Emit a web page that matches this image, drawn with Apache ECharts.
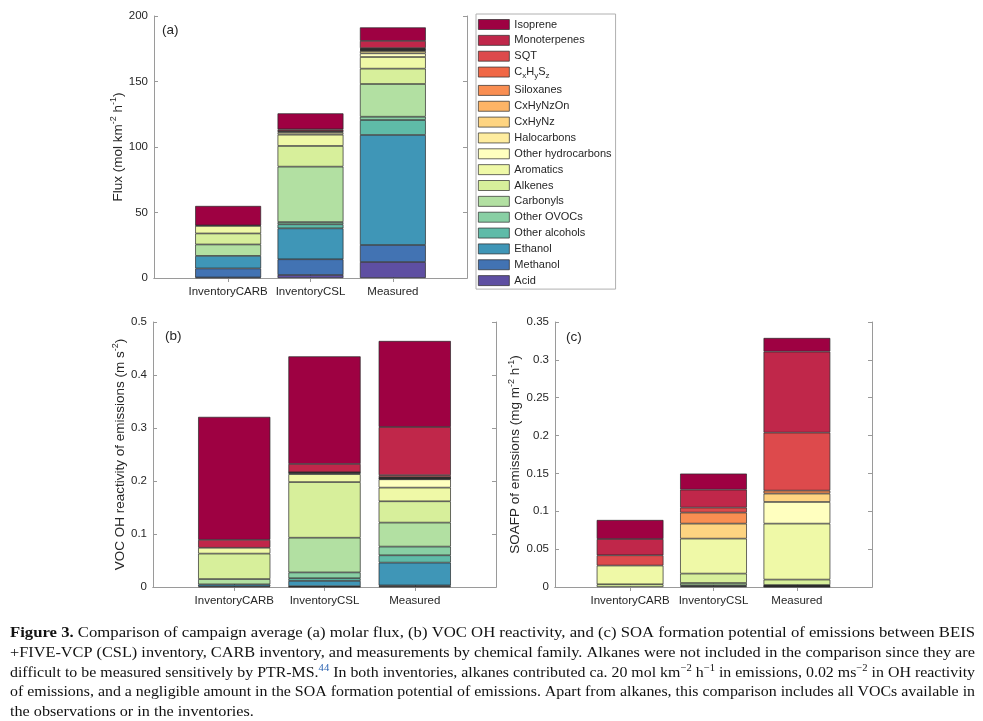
<!DOCTYPE html>
<html><head><meta charset="utf-8">
<script src="https://cdn.jsdelivr.net/npm/echarts@6/dist/echarts.min.js"></script>
<style>html,body{margin:0;padding:0;background:#fff}#c{width:983px;height:721px}</style>
</head><body><div id="c"></div>
<script>
// ---------- data ----------
const categories = ['InventoryCARB', 'InventoryCSL', 'Measured'];
// chemical families, bottom -> top of each stack
const families = ['Acid', 'Methanol', 'Ethanol', 'Other alcohols', 'Other OVOCs', 'Carbonyls', 'Alkenes',
  'Aromatics', 'Other hydrocarbons', 'Halocarbons', 'CxHyNz', 'CxHyNzOn', 'Siloxanes', 'CxHySz', 'SQT',
  'Monoterpenes', 'Isoprene'];
const familyColors = ['#5e4fa2', '#4273b3', '#3f96b7', '#5fbba8', '#88cfa4', '#b2e0a2', '#d7ef9b',
  '#eff9a7', '#ffffbf', '#feec9f', '#fed481', '#fdb466', '#f98e52', '#f06745', '#dd4a4c',
  '#c0274a', '#9e0142'];

// (a) molar flux, mol km-2 h-1 (family order as above)
const fluxCARB     = [0.4, 6.9, 9.6, 0, 0, 8.7, 8.4, 5.8, 0, 0, 0, 0, 0, 0, 0, 0.3, 14.9];
const fluxCSL      = [2.3, 12.0, 23.6, 3.1, 1.7, 42.3, 15.8, 8.6, 1.5, 1.0, 0, 0, 0.3, 0, 0, 1.3, 12.2];
const fluxMeasured = [12.2, 13.0, 84.0, 11.4, 2.5, 25.0, 11.7, 8.9, 2.8, 1.8, 0.4, 0.5, 0.4, 0.3, 0.6, 5.5, 10.3];

// (b) VOC OH reactivity of emissions, m s-2
const ohrCARB     = [0, 0.001, 0.004, 0, 0, 0.010, 0.048, 0.011, 0, 0, 0, 0, 0, 0, 0, 0.015, 0.232];
const ohrCSL      = [0.0005, 0.001, 0.010, 0.005, 0.011, 0.0655, 0.105, 0.015, 0.002, 0.001, 0, 0, 0, 0, 0.0005, 0.0157, 0.203];
const ohrMeasured = [0.001, 0.002, 0.043, 0.0138, 0.0164, 0.0453, 0.0402, 0.0258, 0.0157, 0.001, 0.0005, 0.001, 0.0005, 0.001, 0.0037, 0.091, 0.1623];

// (c) SOA formation potential of emissions, mg m-2 h-1
const soaCARB     = [0, 0, 0, 0, 0, 0, 0.0036, 0.0247, 0, 0, 0, 0, 0, 0, 0.0136, 0.0215, 0.0251];
const soaCSL      = [0, 0, 0, 0.001, 0.0012, 0.0031, 0.0124, 0.0462, 0, 0, 0.0198, 0, 0.0146, 0, 0.0066, 0.0237, 0.0212];
const soaMeasured = [0, 0.0004, 0.0005, 0.0006, 0.0005, 0.0006, 0.0072, 0.0739, 0.0286, 0, 0.0111, 0, 0.0039, 0, 0.0766, 0.107, 0.018];

// y-axis tick labels
const fluxTicks = [0, 50, 100, 150, 200];
const ohrTicks  = [0, 0.1, 0.2, 0.3, 0.4, 0.5];
const soaTicks  = [0, 0.05, 0.1, 0.15, 0.2, 0.25, 0.3, 0.35];

// ---------- chart ----------
const FONT = 'Liberation Sans';
const TXT = '#262626';
const FRAME = '#9a9a9a';
const catPos = [1, 2, 3];
const XMIN = 0.1, XMAX = 3.9;   // frame x-limits in category units

const panels = [
  { frame: { left: 154, top: 16, width: 313, height: 262 }, ticks: fluxTicks, nameGap: 24,
    name: 'Flux (mol km{sup|-2} h{sup|-1})', data: [fluxCARB, fluxCSL, fluxMeasured],
    label: '(a)', labelPos: [162, 23] },
  { frame: { left: 153, top: 322, width: 343, height: 265 }, ticks: ohrTicks, nameGap: 22,
    name: 'VOC OH reactivity of emissions (m s{sup|-2})', data: [ohrCARB, ohrCSL, ohrMeasured],
    label: '(b)', labelPos: [165, 329] },
  { frame: { left: 555, top: 322, width: 317, height: 265 }, ticks: soaTicks, nameGap: 29,
    name: 'SOAFP of emissions (mg m{sup|-2} h{sup|-1})', data: [soaCARB, soaCSL, soaMeasured],
    label: '(c)', labelPos: [566, 330] }
];

const grids = [], xAxes = [], yAxes = [], series = [], titles = [];
panels.forEach((p, k) => {
  const f = p.frame;
  const unit = f.width / (XMAX - XMIN);
  // frame grid (axes, ticks, labels)
  grids.push({ left: f.left, top: f.top, width: f.width, height: f.height });
  // bar grid: exactly spans the three category bands
  grids.push({ left: f.left + (0.5 - XMIN) * unit, top: f.top, width: 3 * unit, height: f.height });
  const fg = 2 * k, bg = 2 * k + 1;
  const tmin = p.ticks[0], tmax = p.ticks[p.ticks.length - 1], step = p.ticks[1] - p.ticks[0];
  const tick = { show: true, inside: true, length: 4, lineStyle: { color: FRAME, width: 1 } };
  const line = { show: true, lineStyle: { color: FRAME, width: 1 } };
  xAxes.push({
    type: 'value', gridIndex: fg, position: 'bottom', min: XMIN, max: XMAX,
    axisLine: line, splitLine: { show: false },
    axisTick: Object.assign({ customValues: catPos }, tick),
    axisLabel: { customValues: catPos, formatter: v => categories[Math.round(v) - 1], color: TXT,
      fontFamily: FONT, fontSize: 11.5, margin: 8 }
  });
  xAxes.push({
    type: 'value', gridIndex: fg, position: 'top', min: XMIN, max: XMAX,
    axisLine: line, splitLine: { show: false },
    axisTick: Object.assign({ customValues: catPos }, tick), axisLabel: { show: false }
  });
  xAxes.push({
    type: 'category', gridIndex: bg, data: categories, boundaryGap: true,
    axisLine: { show: false }, axisTick: { show: false }, axisLabel: { show: false }, splitLine: { show: false }
  });
  yAxes.push({
    type: 'value', gridIndex: fg, position: 'left', min: tmin, max: tmax, interval: step,
    axisLine: line, splitLine: { show: false }, axisTick: tick,
    axisLabel: { color: TXT, fontFamily: FONT, fontSize: 11.5, margin: 6 },
    name: p.name, nameLocation: 'middle', nameGap: p.nameGap,
    nameTextStyle: { color: TXT, fontFamily: FONT, fontSize: 13.5,
      rich: { sup: { fontSize: 9, fontFamily: FONT, color: TXT, padding: [0, 0, 9, 0] } } }
  });
  yAxes.push({
    type: 'value', gridIndex: fg, position: 'right', min: tmin, max: tmax, interval: step,
    axisLine: line, splitLine: { show: false }, axisTick: tick, axisLabel: { show: false }
  });
  yAxes.push({
    type: 'value', gridIndex: bg, min: tmin, max: tmax, interval: step, show: false,
    splitLine: { show: false }
  });
  titles.push({ text: p.label, left: p.labelPos[0], top: p.labelPos[1], padding: 0,
    textStyle: { fontFamily: FONT, fontSize: 13.5, fontWeight: 'normal', color: TXT } });
  families.forEach((fam, i) => {
    series.push({
      type: 'bar', name: fam, stack: 'panel' + k, xAxisIndex: 3 * k + 2, yAxisIndex: 3 * k + 2,
      barWidth: '80%',
      itemStyle: { color: familyColors[i], borderColor: '#2a2a2a', borderWidth: 0.7 },
      emphasis: { disabled: true },
      // families absent from a bar are left out rather than drawn as zero-height outlines
      data: p.data.map(arr => (arr[i] === 0 ? '-' : arr[i]))
    });
  });
});

// caption
const captionLines = [
  [['b', 'Figure 3.'], ['n', ' Comparison of campaign average (a) molar flux, (b) VOC OH reactivity, and (c) SOA formation potential of emissions between BEIS']],
  [['n', '+FIVE-VCP (CSL) inventory, CARB inventory, and measurements by chemical family. Alkanes were not included in the comparison since they are']],
  [['n', 'difficult to be measured sensitively by PTR-MS.'], ['ref', '44'], ['n', ' In both inventories, alkanes contributed ca. 20 mol km'], ['sup', '\u22122'], ['n', ' h'], ['sup', '\u22121'], ['n', ' in emissions, 0.02 ms'], ['sup', '\u22122'], ['n', ' in OH reactivity']],
  [['n', 'of emissions, and a negligible amount in the SOA formation potential of emissions. Apart from alkanes, this comparison includes all VOCs available in']],
  [['n', 'the observations or in the inventories.']]
];
const SERIF = 'Liberation Serif';
const capSize = 15;
const capStyles = {
  n:   { font: capSize + 'px "' + SERIF + '"' },
  b:   { font: 'bold ' + capSize + 'px "' + SERIF + '"' },
  sup: { font: '10px "' + SERIF + '"' },
  ref: { font: '10px "' + SERIF + '"' }
};
const cv = document.createElement('canvas').getContext('2d');
const lineWidths = captionLines.map(segs => segs.reduce((w, s) => {
  cv.font = capStyles[s[0]].font; return w + cv.measureText(s[1]).width;
}, 0));
const capLeft = 10, capRight = 975;
const scales = lineWidths.map(w => (capRight - capLeft) / w);
const avgScale = (scales[0] + scales[1] + scales[2] + scales[3]) / 4;
const capY = [633, 653, 673, 692, 712];
const graphics = captionLines.map((segs, li) => ({
  type: 'text', x: capLeft, y: capY[li], scaleX: li < 4 ? scales[li] : avgScale,
  style: {
    text: segs.map(s => '{' + s[0] + '|' + s[1] + '}').join(''),
    fill: '#111', fontFamily: SERIF, fontSize: capSize, verticalAlign: 'middle', align: 'left',
    rich: {
      n: { fontFamily: SERIF, fontSize: capSize, fill: '#111' },
      b: { fontFamily: SERIF, fontSize: capSize, fontWeight: 'bold', fill: '#111' },
      sup: { fontFamily: SERIF, fontSize: 10, fill: '#111', padding: [0, 0, 9, 0] },
      ref: { fontFamily: SERIF, fontSize: 10, fill: '#2a62b0', padding: [0, 0, 9, 0] }
    }
  }
}));

const chart = echarts.init(document.getElementById('c'), null, { renderer: 'canvas' });
chart.setOption({
  backgroundColor: '#fff',
  animation: false,
  title: titles,
  grid: grids,
  xAxis: xAxes,
  yAxis: yAxes,
  legend: {
    data: families.slice().reverse(), orient: 'vertical', left: 476, top: 14,
    padding: [5, 4, 3, 2], itemWidth: 31, itemHeight: 10, itemGap: 4.85, icon: 'rect',
    borderColor: '#b0b0b0', borderWidth: 1, selectedMode: false,
    itemStyle: { borderColor: '#2a2a2a', borderWidth: 0.7 },
    textStyle: { fontFamily: FONT, fontSize: 11, color: TXT,
      rich: { sub: { fontFamily: FONT, fontSize: 8, color: TXT, padding: [8, 0, 0, 0] } } },
    formatter: n => n === 'CxHySz' ? 'C{sub|x}H{sub|y}S{sub|z}' : n
  },
  series: series,
  graphic: graphics
});
</script></body></html>
